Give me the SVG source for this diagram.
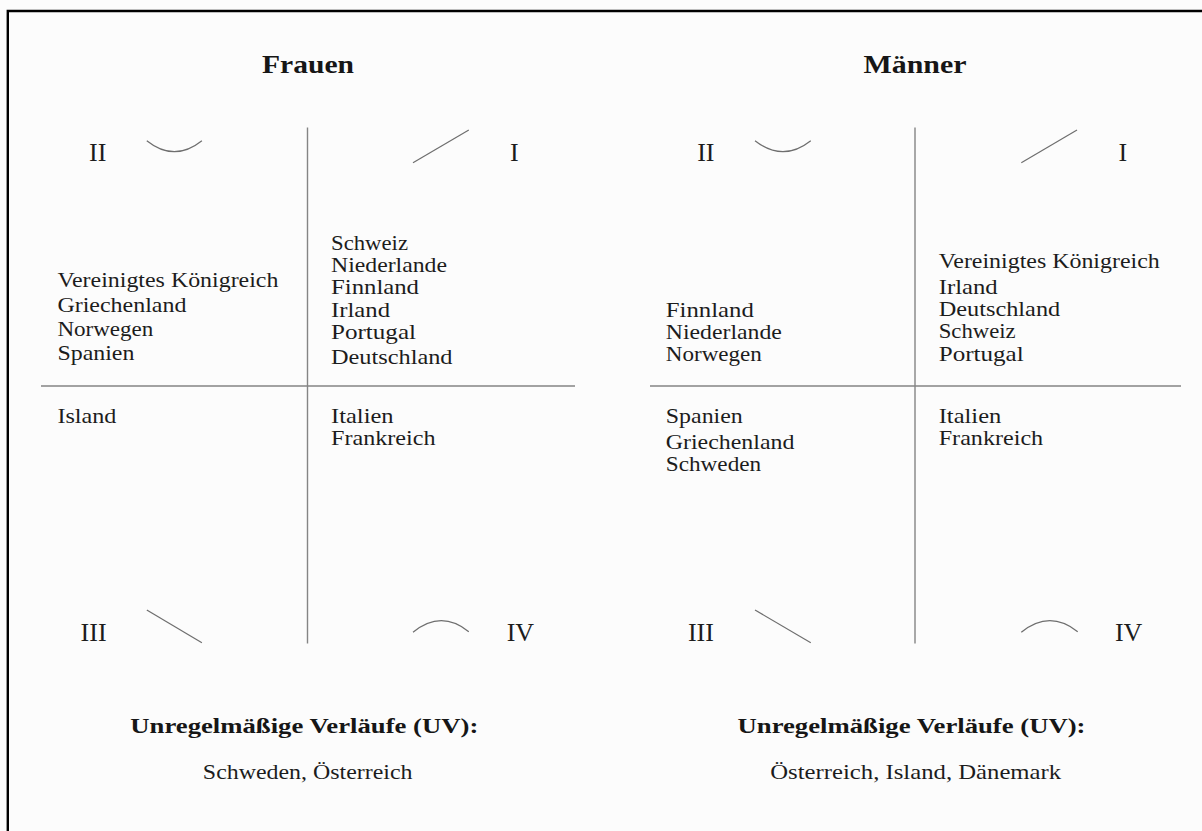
<svg xmlns="http://www.w3.org/2000/svg" width="1202" height="831" viewBox="0 0 1202 831">
<style>
.t{font-family:"Liberation Serif","Times New Roman",serif;font-size:21.5px;fill:#1c1c1c}
.b{font-family:"Liberation Serif","Times New Roman",serif;font-weight:bold;fill:#161616}
.num{font-family:"Liberation Serif","Times New Roman",serif;font-size:26px;fill:#1c1c1c}
.axis{stroke:#858585;stroke-width:1.4;fill:none}
.shape{stroke:#6e6e6e;stroke-width:1.2;fill:none}
</style>
<rect x="0" y="0" width="1202" height="831" fill="#fcfcfc"/>
<path id="frame" d="M7.8,831 V11 H1202" fill="none" stroke="#000" stroke-width="2.4"/>

<g id="frauen">
  <text id="title-frauen" class="b" x="308" y="72.5" font-size="26" text-anchor="middle" textLength="92" lengthAdjust="spacingAndGlyphs">Frauen</text>
  <g id="frauen-axes">
    <line class="axis" x1="307.5" y1="127.5" x2="307.5" y2="643.5"/>
    <line class="axis" x1="41" y1="386" x2="575" y2="386"/>
  </g>
  <g id="frauen-q2">
    <text class="num" x="89" y="161">II</text>
    <path class="shape" d="M146.8,140.7 Q174.3,162.7 201.9,140.7"/>
    <text class="t" x="57.4" y="286.5" textLength="221" lengthAdjust="spacingAndGlyphs">Vereinigtes Königreich</text>
    <text class="t" x="57.4" y="312" textLength="129" lengthAdjust="spacingAndGlyphs">Griechenland</text>
    <text class="t" x="57.4" y="335.5" textLength="96" lengthAdjust="spacingAndGlyphs">Norwegen</text>
    <text class="t" x="57.4" y="360" textLength="77" lengthAdjust="spacingAndGlyphs">Spanien</text>
  </g>
  <g id="frauen-q1">
    <text class="num" x="510" y="161">I</text>
    <line class="shape" x1="413" y1="162.7" x2="468.8" y2="130"/>
    <text class="t" x="331" y="250" textLength="77" lengthAdjust="spacingAndGlyphs">Schweiz</text>
    <text class="t" x="331" y="272.3" textLength="116" lengthAdjust="spacingAndGlyphs">Niederlande</text>
    <text class="t" x="331" y="294.3" textLength="88" lengthAdjust="spacingAndGlyphs">Finnland</text>
    <text class="t" x="331" y="316.7" textLength="59" lengthAdjust="spacingAndGlyphs">Irland</text>
    <text class="t" x="331" y="339" textLength="85" lengthAdjust="spacingAndGlyphs">Portugal</text>
    <text class="t" x="331" y="364.3" textLength="121.5" lengthAdjust="spacingAndGlyphs">Deutschland</text>
  </g>
  <g id="frauen-q3">
    <text class="num" x="80.6" y="641">III</text>
    <line class="shape" x1="146.8" y1="610" x2="201.9" y2="642.7"/>
    <text class="t" x="57.4" y="423.3" textLength="59" lengthAdjust="spacingAndGlyphs">Island</text>
  </g>
  <g id="frauen-q4">
    <text class="num" x="506.7" y="641">IV</text>
    <path class="shape" d="M413,632.3 Q441,609.4 468.8,631.7"/>
    <text class="t" x="331" y="423.3" textLength="62.6" lengthAdjust="spacingAndGlyphs">Italien</text>
    <text class="t" x="331" y="445" textLength="104.5" lengthAdjust="spacingAndGlyphs">Frankreich</text>
  </g>
  <g id="frauen-uv">
    <text class="b" x="304.3" y="733.3" font-size="21" text-anchor="middle" textLength="348" lengthAdjust="spacingAndGlyphs">Unregelmäßige Verläufe (UV):</text>
    <text class="t" x="307.7" y="779.3" text-anchor="middle" textLength="209.7" lengthAdjust="spacingAndGlyphs">Schweden, Österreich</text>
  </g>
</g>

<g id="maenner">
  <text id="title-maenner" class="b" x="915" y="72.5" font-size="26" text-anchor="middle" textLength="103" lengthAdjust="spacingAndGlyphs">Männer</text>
  <g id="maenner-axes">
    <line class="axis" x1="915" y1="127.5" x2="915" y2="643.5"/>
    <line class="axis" x1="650" y1="386" x2="1181" y2="386"/>
  </g>
  <g id="maenner-q2">
    <text class="num" x="697.2" y="161">II</text>
    <path class="shape" d="M755,140.7 Q782.9,162.7 810.8,140.7"/>
    <text class="t" x="665.8" y="316.7" textLength="88" lengthAdjust="spacingAndGlyphs">Finnland</text>
    <text class="t" x="665.8" y="339" textLength="116" lengthAdjust="spacingAndGlyphs">Niederlande</text>
    <text class="t" x="665.8" y="360.7" textLength="96" lengthAdjust="spacingAndGlyphs">Norwegen</text>
  </g>
  <g id="maenner-q1">
    <text class="num" x="1118.4" y="161">I</text>
    <line class="shape" x1="1021.3" y1="162.7" x2="1077" y2="130"/>
    <text class="t" x="938.7" y="267.7" textLength="221" lengthAdjust="spacingAndGlyphs">Vereinigtes Königreich</text>
    <text class="t" x="938.7" y="294" textLength="59" lengthAdjust="spacingAndGlyphs">Irland</text>
    <text class="t" x="938.7" y="316" textLength="121.5" lengthAdjust="spacingAndGlyphs">Deutschland</text>
    <text class="t" x="938.7" y="338.3" textLength="77" lengthAdjust="spacingAndGlyphs">Schweiz</text>
    <text class="t" x="938.7" y="360.7" textLength="85" lengthAdjust="spacingAndGlyphs">Portugal</text>
  </g>
  <g id="maenner-q3">
    <text class="num" x="687.9" y="641">III</text>
    <line class="shape" x1="755" y1="610" x2="810.8" y2="642.7"/>
    <text class="t" x="665.8" y="423.3" textLength="77" lengthAdjust="spacingAndGlyphs">Spanien</text>
    <text class="t" x="665.8" y="449" textLength="128.6" lengthAdjust="spacingAndGlyphs">Griechenland</text>
    <text class="t" x="665.8" y="470.7" textLength="95.4" lengthAdjust="spacingAndGlyphs">Schweden</text>
  </g>
  <g id="maenner-q4">
    <text class="num" x="1114.9" y="641">IV</text>
    <path class="shape" d="M1021.3,632.3 Q1049.5,609.4 1077.7,631.7"/>
    <text class="t" x="938.7" y="423.3" textLength="62.6" lengthAdjust="spacingAndGlyphs">Italien</text>
    <text class="t" x="938.7" y="445" textLength="104.5" lengthAdjust="spacingAndGlyphs">Frankreich</text>
  </g>
  <g id="maenner-uv">
    <text class="b" x="911.5" y="733.3" font-size="21" text-anchor="middle" textLength="348" lengthAdjust="spacingAndGlyphs">Unregelmäßige Verläufe (UV):</text>
    <text class="t" x="915.7" y="779.3" text-anchor="middle" textLength="290.9" lengthAdjust="spacingAndGlyphs">Österreich, Island, Dänemark</text>
  </g>
</g>
</svg>
